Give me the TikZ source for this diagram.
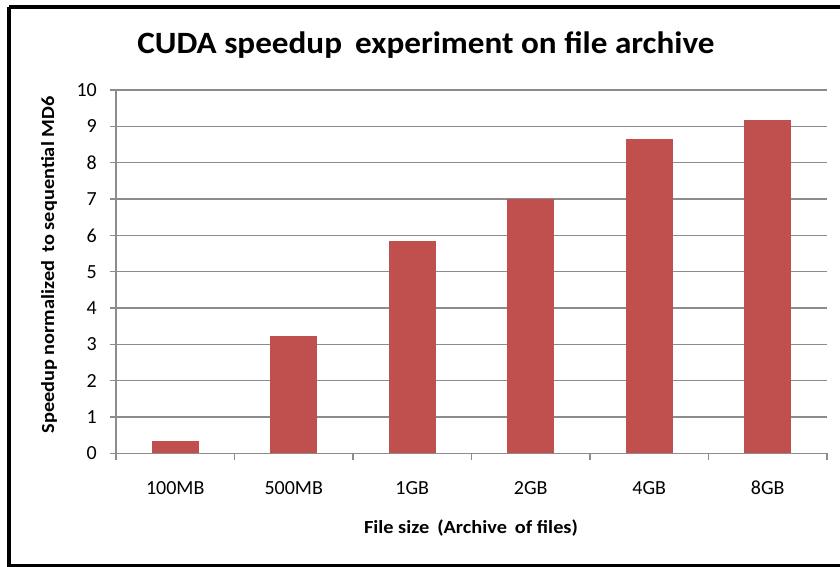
\documentclass[tikz,border=0pt]{standalone}
\usepackage{fontspec}
\setmainfont{Carlito}
\definecolor{barred}{HTML}{C0504D}
\definecolor{gridgray}{HTML}{8C8C8C}
\begin{document}
\begin{tikzpicture}[x=1pt,y=-1pt,
  gridline/.style={draw=gridgray,line width=1.3pt},
  axisline/.style={draw=gridgray,line width=1.3pt},
  bar/.style={fill=barred},
  ticklab/.style={font=\fontsize{20}{22}\selectfont,inner sep=0pt},
  axtitle/.style={font=\fontsize{18.5}{22}\selectfont\bfseries,inner sep=0pt},
  charttitle/.style={font=\fontsize{31}{36}\selectfont\bfseries,inner sep=0pt}]
\useasboundingbox (0,0) rectangle (840,567);
\clip (0,0) rectangle (840,567);
\fill[white] (0,0) rectangle (840,567);
% frame
\draw[line width=4.5pt] (9,7) -- (860,7);
\draw[line width=4.5pt] (9,7) -- (9,566) -- (860,566);
% grid and y labels
\foreach \i in {1,...,10}{
  \draw[gridline] (116,{453.3-36.33*\i}) -- (827,{453.3-36.33*\i});
}
\foreach \i in {0,...,10}{
  \draw[axisline] (110,{453.3-36.33*\i}) -- (116,{453.3-36.33*\i});
  \node[ticklab,anchor=east] (yl\i) at (97,{453.3-36.33*\i}) {\i};
}
% bars
\foreach \v [count=\k from 0] in {0.35,3.24,5.85,7.0,8.64,9.17}{
  \fill[bar] ({175.25+118.5*\k-23.5},453.3) rectangle ({175.25+118.5*\k+23.5},{453.3-36.33*\v});
}
% axes
\draw[axisline] (116,90) -- (116,453.3) -- (827,453.3);
\foreach \k in {0,...,6}{
  \draw[axisline] ({116+118.5*\k},453.3) -- ({116+118.5*\k},460);
}
% x labels
\foreach \t [count=\k from 0] in {100MB,500MB,1GB,2GB,4GB,8GB}{
  \node[ticklab,anchor=base] (xl\k) at ({175.25+118.5*\k},494.3) {\t};
}
% titles
\node[charttitle,anchor=base] (title) at (426,53.3) {\scalebox{1.07}[1]{CUDA speedup\, experiment on file archive}};
\node[axtitle,rotate=90] (ytitle) at (49,265) {\scalebox{1.1}[1]{Speedup normalized\, to sequential MD6}};
\node[axtitle] (xtitle) at (471,528) {\scalebox{1.1}[1]{File size\, (Archive\, of files)}};
\end{tikzpicture}
\end{document}
